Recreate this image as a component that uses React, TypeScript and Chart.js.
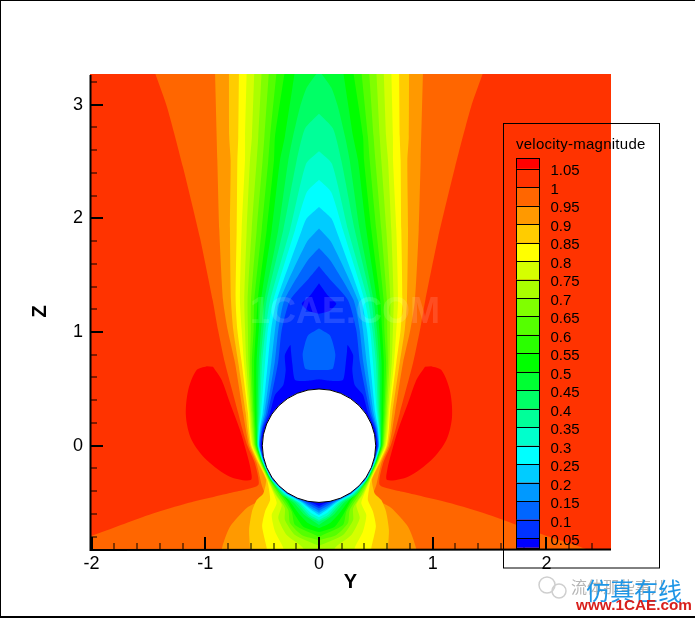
import React, { useEffect, useRef } from "react";
import { Chart, registerables } from "chart.js";

Chart.register(...registerables);

type P = [number, number];

// --- axes ---
const xRange = [-2.014, 2.568];
const zRange = [-0.9085, 3.2695];
const xMajor = [-2, -1, 0, 1, 2];
const zMajor = [0, 1, 2, 3];
const xMinor = [-1.8, -1.6, -1.4, -1.2, -0.8, -0.6, -0.4, -0.2, 0.2, 0.4, 0.6, 0.8, 1.2, 1.4, 1.6, 1.8, 2.2, 2.4];
const zMinor = [-0.8, -0.6, -0.4, -0.2, 0.2, 0.4, 0.6, 0.8, 1.2, 1.4, 1.6, 1.8, 2.2, 2.4, 2.6, 2.8, 3.2];

// --- legend ---
const legendTitle = "velocity-magnitude";
const legendLabels = ["1.05", "1", "0.95", "0.9", "0.85", "0.8", "0.75", "0.7", "0.65", "0.6", "0.55", "0.5", "0.45", "0.4", "0.35", "0.3", "0.25", "0.2", "0.15", "0.1", "0.05"];
const legendColors = ["#ff0000", "#ff3300", "#ff6600", "#ff9900", "#ffcc00", "#ffff00", "#d5ff00", "#aaff00", "#80ff00", "#55ff00", "#2aff00", "#00ff00", "#00ff33", "#00ff66", "#00ff99", "#00ffcc", "#00ffff", "#00ccff", "#0099ff", "#0066ff", "#0033ff", "#0000ff"];

// --- contour half-outlines [half-width, z], top to bottom; mirrored about x = 0 ---
const lobe: P[] = [[0.988, 0.7], [1.076, 0.666], [1.15, 0.49], [1.17, 0.255], [1.12, 0.05], [0.988, -0.126], [0.783, -0.273], [0.6, -0.302], [0.6, -0.214], [0.636, -0.064], [0.695, 0.138], [0.783, 0.375], [0.856, 0.578], [0.932, 0.695]];
const c100: P[] = [[1.45, 3.3], [1.337, 2.98], [1.196, 2.45], [1.047, 1.83], [0.935, 1.28], [0.888, 1.017], [0.827, 0.727], [0.71, 0.286], [0.675, 0.15], [0.63, 0], [0.565, -0.15], [0.534, -0.346], [0.756, -0.41], [1.16, -0.507], [1.548, -0.626], [2.005, -0.794], [2.3, -0.89], [2.8, -1.1], [0, -1.1]];
const c095: P[] = [[0.915, 3.3], [0.894, 2.51], [0.877, 1.9], [0.844, 1.28], [0.803, 1.017], [0.739, 0.73], [0.668, 0.29], [0.645, 0.15], [0.616, 0], [0.55, -0.15], [0.504, -0.346], [0.475, -0.45], [0.636, -0.548], [0.783, -0.712], [0.85, -0.888], [0.87, -1.1], [0, -1.1]];
const c090: P[] = [[0.792, 3.3], [0.79, 2.72], [0.777, 2.51], [0.783, 1.9], [0.774, 1.28], [0.754, 1.017], [0.71, 0.73], [0.645, 0.29], [0.63, 0.15], [0.604, 0], [0.537, -0.15], [0.466, -0.3], [0.49, -0.42], [0.548, -0.478], [0.59, -0.58], [0.615, -0.74], [0.607, -0.9], [0.6, -1.1], [0, -1.1]];
const c085: P[] = [[0.704, 3.3], [0.71, 2.72], [0.718, 2.51], [0.724, 1.9], [0.733, 1.28], [0.718, 1.017], [0.68, 0.73], [0.625, 0.29], [0.615, 0.15], [0.595, 0], [0.528, -0.15], [0.457, -0.3], [0.44, -0.38], [0.43, -0.478], [0.475, -0.58], [0.5, -0.71], [0.46, -0.9], [0.44, -1.1], [0, -1.1]];
const c080: P[] = [[0.636, 3.3], [0.65, 2.72], [0.651, 2.51], [0.68, 1.9], [0.695, 1.28], [0.68, 1.017], [0.66, 0.73], [0.615, 0.29], [0.605, 0.15], [0.586, 0], [0.522, -0.15], [0.452, -0.3], [0.4, -0.42], [0.372, -0.505], [0.416, -0.61], [0.386, -0.756], [0.314, -0.9], [0.29, -1.1], [0, -1.1]];
const c075: P[] = [[0.569, 3.3], [0.59, 2.72], [0.607, 2.51], [0.636, 1.9], [0.657, 1.28], [0.65, 1.017], [0.64, 0.73], [0.605, 0.29], [0.595, 0.15], [0.577, 0], [0.517, -0.15], [0.447, -0.3], [0.39, -0.42], [0.328, -0.52], [0.358, -0.637], [0.284, -0.785], [0.14, -0.9], [0.1, -1.1], [0, -1.1]];
const c070: P[] = [[0.504, 3.3], [0.534, 2.72], [0.548, 2.51], [0.592, 1.9], [0.628, 1.28], [0.625, 1.017], [0.62, 0.73], [0.595, 0.29], [0.585, 0.15], [0.568, 0], [0.512, -0.15], [0.442, -0.3], [0.372, -0.434], [0.3, -0.55], [0.3, -0.653], [0.211, -0.785], [0, -0.88]];
const c065: P[] = [[0.44, 3.3], [0.48, 2.72], [0.496, 2.51], [0.548, 1.9], [0.598, 1.28], [0.6, 1.017], [0.605, 0.73], [0.585, 0.29], [0.575, 0.15], [0.563, 0], [0.508, -0.15], [0.437, -0.3], [0.343, -0.448], [0.27, -0.565], [0.255, -0.68], [0.152, -0.785], [0, -0.83]];
const c060: P[] = [[0.372, 3.3], [0.43, 2.72], [0.446, 2.51], [0.504, 1.9], [0.569, 1.28], [0.575, 1.017], [0.59, 0.73], [0.575, 0.29], [0.567, 0.15], [0.557, 0], [0.504, -0.15], [0.432, -0.3], [0.314, -0.463], [0.24, -0.58], [0.211, -0.697], [0, -0.8]];
const c055: P[] = [[0.3, 3.3], [0.387, 2.72], [0.396, 2.51], [0.46, 1.9], [0.539, 1.28], [0.555, 1.017], [0.57, 0.73], [0.565, 0.29], [0.558, 0.15], [0.55, 0], [0.5, -0.15], [0.428, -0.3], [0.284, -0.478], [0.211, -0.61], [0.138, -0.712], [0, -0.76]];
const c050: P[] = [[0.211, 3.3], [0.3, 2.72], [0.343, 2.51], [0.416, 1.9], [0.51, 1.28], [0.53, 1.017], [0.55, 0.73], [0.55, 0.29], [0.55, 0.15], [0.545, 0], [0.497, -0.15], [0.425, -0.3], [0.255, -0.492], [0.167, -0.61], [0.094, -0.683], [0, -0.727]];
const c045: P[] = [[0, 3.3], [0.108, 3.15], [0.167, 2.98], [0.229, 2.72], [0.27, 2.51], [0.358, 1.9], [0.48, 1.28], [0.51, 1.017], [0.53, 0.73], [0.54, 0.29], [0.543, 0.15], [0.542, 0], [0.495, -0.15], [0.422, -0.3], [0.33, -0.43], [0.226, -0.498], [0.127, -0.61], [0, -0.697]];
const c040: P[] = [[0, 2.92], [0.123, 2.79], [0.196, 2.51], [0.314, 1.9], [0.46, 1.28], [0.49, 1.017], [0.515, 0.73], [0.53, 0.29], [0.537, 0.15], [0.54, 0], [0.493, -0.15], [0.419, -0.3], [0.31, -0.43], [0.2, -0.5], [0.094, -0.618], [0, -0.668]];
const c035: P[] = [[0, 2.59], [0.114, 2.48], [0.255, 1.9], [0.43, 1.28], [0.47, 1.017], [0.5, 0.73], [0.52, 0.29], [0.532, 0.15], [0.536, 0], [0.49, -0.15], [0.416, -0.3], [0.3, -0.43], [0.182, -0.5], [0.079, -0.61], [0, -0.653]];
const c030: P[] = [[0, 2.34], [0.108, 2.23], [0.21, 1.9], [0.401, 1.28], [0.45, 1.017], [0.475, 0.73], [0.51, 0.29], [0.527, 0.15], [0.533, 0], [0.488, -0.15], [0.413, -0.3], [0.295, -0.425], [0.167, -0.5], [0.073, -0.59], [0, -0.63]];
const c025: P[] = [[0, 2.1], [0.108, 2.0], [0.15, 1.9], [0.372, 1.28], [0.422, 1.017], [0.45, 0.73], [0.495, 0.29], [0.52, 0.15], [0.528, 0], [0.485, -0.15], [0.41, -0.3], [0.29, -0.42], [0.16, -0.495], [0.075, -0.56], [0, -0.609]];
const c020: P[] = [[0, 1.91], [0.108, 1.79], [0.343, 1.28], [0.387, 1.017], [0.42, 0.73], [0.48, 0.29], [0.513, 0.15], [0.525, 0], [0.482, -0.15], [0.408, -0.3], [0.285, -0.42], [0.15, -0.49], [0.07, -0.55], [0, -0.59]];
const c015: P[] = [[0, 1.74], [0.1, 1.63], [0.305, 1.28], [0.358, 1.017], [0.39, 0.73], [0.465, 0.29], [0.505, 0.15], [0.522, 0], [0.48, -0.15], [0.406, -0.3], [0.28, -0.42], [0.14, -0.49], [0.065, -0.535], [0, -0.572]];
const c010: P[] = [[0, 1.58], [0.09, 1.47], [0.255, 1.28], [0.328, 1.017], [0.36, 0.73], [0.45, 0.29], [0.498, 0.15], [0.516, 0], [0.478, -0.15], [0.404, -0.3], [0.275, -0.42], [0.13, -0.485], [0.06, -0.52], [0, -0.551]];
const island015: P[] = [[0, 1.032], [0.094, 0.974], [0.123, 0.9], [0.144, 0.8], [0.123, 0.68], [0.08, 0.667], [0, 0.667]];
const diamond005: P[] = [[0, 1.43], [0.08, 1.32], [0.152, 1.25], [0.1, 1.19], [0, 1.16]];
const wrap005: P[] = [[0, 0.584], [0.094, 0.572], [0.21, 0.578], [0.235, 0.724], [0.246, 0.826], [0.252, 0.886], [0.3, 0.797], [0.293, 0.666], [0.314, 0.534], [0.387, 0.446], [0.43, 0.29], [0.49, 0.15], [0.51, 0], [0.476, -0.15], [0.402, -0.3], [0.27, -0.42], [0.12, -0.48], [0.05, -0.505], [0, -0.53]];
const cylinderCentre = [{ x: 0, y: 0 }];

const toXY = (pts: P[], sign = 1) => pts.map(([x, y]) => ({ x: sign * x, y }));
const closed = (half: P[]) => [...toXY(half), ...toXY([...half].reverse(), -1)];

const band = (label: string, data: { x: number; y: number }[], color: string, tension: number) => ({
  type: "scatter" as const,
  label,
  data,
  showLine: true,
  fill: "shape",
  backgroundColor: color,
  borderColor: color,
  borderWidth: 0,
  pointRadius: 0,
  tension,
});

// painted back to front
const contourStack: [string, P[], string][] = [
  ["1", c100, "#ff6600"], ["0.95", c095, "#ff9900"], ["0.9", c090, "#ffcc00"], ["0.85", c085, "#ffff00"],
  ["0.8", c080, "#d5ff00"], ["0.75", c075, "#aaff00"], ["0.7", c070, "#80ff00"], ["0.65", c065, "#55ff00"],
  ["0.6", c060, "#2aff00"], ["0.55", c055, "#00ff00"], ["0.5", c050, "#00ff33"], ["0.45", c045, "#00ff66"],
  ["0.4", c040, "#00ff99"], ["0.35", c035, "#00ffcc"], ["0.3", c030, "#00ffff"], ["0.25", c025, "#00ccff"],
  ["0.2", c020, "#0099ff"], ["0.15", c015, "#0066ff"], ["0.1", c010, "#0033ff"],
  ["0.15 core", island015, "#0066ff"], ["0.05 core", diamond005, "#0000ff"], ["0.05 wrap", wrap005, "#0000ff"],
];

const framePlugin = {
  id: "frame",
  beforeDraw(chart: any) {
    const { ctx, width, height, chartArea: a } = chart;
    ctx.save();
    ctx.fillStyle = "#ffffff";
    ctx.fillRect(0, 0, width, height);
    ctx.fillStyle = legendColors[1];
    ctx.fillRect(a.left, a.top, a.right - a.left, a.bottom - a.top);
    ctx.restore();
  },
  afterDraw(chart: any) {
    const { ctx, width, chartArea: a, scales } = chart;
    ctx.save();
    // watermark over the plot
    ctx.font = "bold 36px 'Liberation Sans'";
    ctx.fillStyle = "rgba(255,255,255,0.13)";
    ctx.textBaseline = "alphabetic";
    ctx.textAlign = "left";
    ctx.fillText("1CAE.COM", 250, 323);

    // axes and inward ticks
    ctx.strokeStyle = "#000";
    ctx.lineWidth = 2;
    ctx.beginPath();
    ctx.moveTo(a.left + 0.5, a.top + 1);
    ctx.lineTo(a.left + 0.5, a.bottom + 1);
    ctx.lineTo(a.right, a.bottom + 0.5);
    ctx.stroke();
    const tick = (horizontal: boolean, v: number, len: number, w: number) => {
      ctx.lineWidth = w;
      ctx.beginPath();
      if (horizontal) {
        const p = Math.round(scales.x.getPixelForValue(v));
        ctx.moveTo(p, a.bottom);
        ctx.lineTo(p, a.bottom - len);
      } else {
        const p = Math.round(scales.y.getPixelForValue(v));
        ctx.moveTo(a.left, p);
        ctx.lineTo(a.left + len, p);
      }
      ctx.stroke();
    };
    xMajor.forEach((v) => tick(true, v, 12, 2));
    zMajor.forEach((v) => tick(false, v, 13, 2));
    xMinor.forEach((v) => tick(true, v, 6, 1));
    zMinor.forEach((v) => tick(false, v, 7, 1));

    // legend
    ctx.lineWidth = 1;
    ctx.strokeRect(503.5, 123.5, 156, 444.5);
    ctx.fillStyle = "#000";
    ctx.font = "15px 'Liberation Sans'";
    ctx.textBaseline = "middle";
    (ctx as any).letterSpacing = "0.25px";
    ctx.fillText(legendTitle, 516, 144.5);
    (ctx as any).letterSpacing = "0px";
    const cellY = (i: number) => (i === 0 ? 158 : i >= legendColors.length ? 547.7 : 168.7 + 18.47 * (i - 1));
    legendColors.forEach((c, i) => {
      const y0 = cellY(i);
      const y1 = cellY(i + 1);
      ctx.fillStyle = c;
      ctx.fillRect(516.5, y0, 23, y1 - y0);
      ctx.strokeStyle = "#000";
      ctx.strokeRect(516.5, Math.round(y0) + 0.5, 23, Math.round(y1) - Math.round(y0));
    });
    ctx.fillStyle = "#000";
    legendLabels.forEach((t, i) => ctx.fillText(t, 550.5, 171.3 + 18.49 * i));

    // page frame
    ctx.fillStyle = "#000";
    ctx.fillRect(0, 0, width, 1);
    ctx.fillRect(0, 0, 1, 617);
    ctx.fillRect(0, 616, width, 2);

    // publisher marks
    ctx.strokeStyle = "#cfcfcf";
    ctx.lineWidth = 1.5;
    ctx.beginPath();
    ctx.arc(547, 585, 8, 0, Math.PI * 2);
    ctx.moveTo(566, 591);
    ctx.arc(559, 591, 7, 0, Math.PI * 2);
    ctx.stroke();
    ctx.font = "16px 'Noto Sans CJK SC'";
    ctx.fillStyle = "#b5b5b5";
    ctx.fillText("流体那些事儿", 571, 587);
    ctx.font = "24px 'Noto Sans CJK SC'";
    ctx.fillStyle = "#1f96e6";
    ctx.fillText("仿真在线", 586, 591);
    ctx.font = "bold 15.3px 'Liberation Sans'";
    ctx.fillStyle = "#d8201c";
    ctx.fillText("www.1CAE.com", 576, 606);
    ctx.restore();
  },
};

export default function App() {
  const ref = useRef<HTMLCanvasElement>(null);
  useEffect(() => {
    if (!ref.current) return;
    const chart = new Chart(ref.current, {
      type: "scatter",
      data: {
        // Chart.js paints the first dataset last, so the innermost marks come first
        datasets: [
          {
            type: "scatter" as const,
            label: "cylinder",
            data: cylinderCentre,
            pointRadius: 56.7,
            pointBackgroundColor: "#ffffff",
            pointBorderColor: "#000000",
            pointBorderWidth: 1,
            showLine: false,
          },
          ...[...contourStack].reverse().map(([l, h, c]) => band(l, closed(h), c, 0.2)),
          band("lobe right", toXY(lobe), legendColors[0], 0.3),
          band("lobe left", toXY(lobe, -1), legendColors[0], 0.3),
        ],
      } as any,
      options: {
        animation: false,
        responsive: false,
        devicePixelRatio: 1,
        layout: { padding: { left: 20, right: 84, top: 74, bottom: 19 } },
        plugins: { legend: { display: false }, tooltip: { enabled: false } },
        scales: {
          x: {
            type: "linear",
            min: xRange[0],
            max: xRange[1],
            afterFit: (s: any) => { s.height = 50; },
            afterBuildTicks: (s: any) => { s.ticks = xMajor.map((value) => ({ value })); },
            grid: { display: false, drawTicks: false },
            border: { display: false },
            ticks: { color: "#000", font: { family: "'Liberation Sans'", size: 18 }, padding: 4, maxRotation: 0, autoSkip: false, callback: (v: any) => String(v) },
            title: { display: true, text: "Y", color: "#000", font: { family: "'Liberation Sans'", size: 20, weight: "bold" }, padding: { top: 0, bottom: 5 } },
          },
          y: {
            type: "linear",
            min: zRange[0],
            max: zRange[1],
            afterFit: (s: any) => { s.width = 70; },
            afterBuildTicks: (s: any) => { s.ticks = zMajor.map((value) => ({ value })); },
            grid: { display: false, drawTicks: false },
            border: { display: false },
            ticks: { color: "#000", font: { family: "'Liberation Sans'", size: 18 }, padding: 7, autoSkip: false, callback: (v: any) => String(v) },
            title: { display: true, text: "Z", color: "#000", font: { family: "'Liberation Sans'", size: 20, weight: "bold" }, padding: { top: 8, bottom: 0 } },
          },
        },
      } as any,
      plugins: [framePlugin],
    });
    return () => chart.destroy();
  }, []);
  return <canvas ref={ref} width={695} height={618} style={{ position: "fixed", left: 0, top: 0, display: "block" }} />;
}
